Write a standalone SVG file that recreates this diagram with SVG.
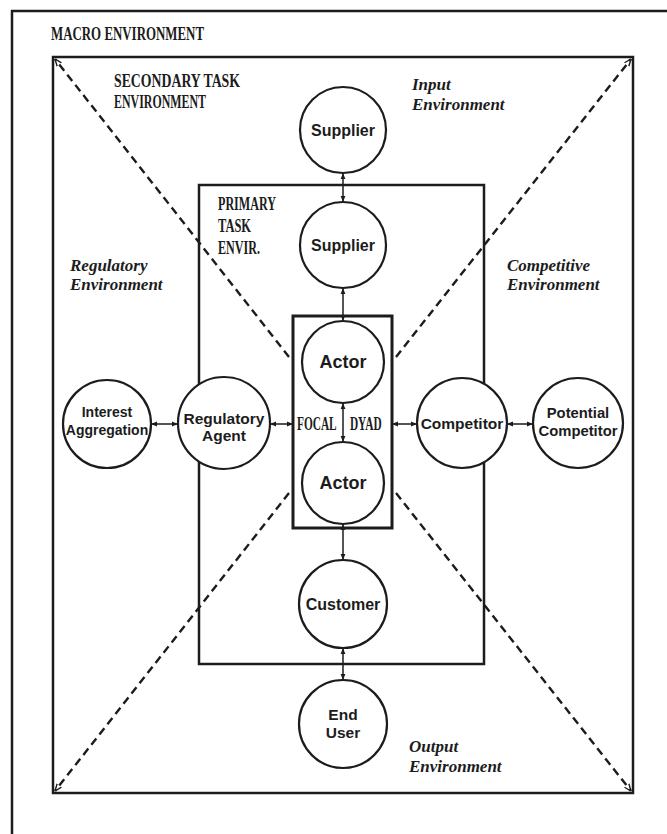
<svg xmlns="http://www.w3.org/2000/svg" width="667" height="834" viewBox="0 0 667 834">
  <style>
    .frame { fill: none; stroke: #1c1c1c; stroke-width: 2.5; }
    .focal { fill: none; stroke: #1c1c1c; stroke-width: 3; }
    .node circle { fill: #ffffff; stroke: #1c1c1c; stroke-width: 2.2; }
    .node text { font-family: "Liberation Sans", Arial, sans-serif; font-weight: bold; fill: #1c1c1c; text-anchor: middle; }
    .caps { font-family: "Liberation Serif", "Times New Roman", serif; font-weight: bold; font-size: 18px; fill: #1c1c1c; }
    .env { font-family: "Liberation Serif", "Times New Roman", serif; font-weight: bold; font-style: italic; font-size: 17px; fill: #1c1c1c; }
    .dash { fill: none; stroke: #1c1c1c; stroke-width: 2.4; stroke-dasharray: 8 5; }
    .link { fill: none; stroke: #1c1c1c; stroke-width: 1.5; }
  </style>
  <defs>
    <marker id="tip" viewBox="0 0 10 10" refX="10" refY="5" markerUnits="userSpaceOnUse" markerWidth="6" markerHeight="6" orient="auto-start-reverse">
      <path d="M0,1 L10,5 L0,9 z" fill="#1c1c1c"/>
    </marker>
    <marker id="corner" viewBox="0 0 10 10" refX="10" refY="5" markerUnits="userSpaceOnUse" markerWidth="7" markerHeight="7" orient="auto-start-reverse">
      <path d="M0,1 L10,5 L0,9" fill="none" stroke="#1c1c1c" stroke-width="2"/>
    </marker>
  </defs>

  <rect width="667" height="834" fill="#ffffff"/>

  <!-- nested environment frames -->
  <g id="macro-environment">
    <rect class="frame" x="12" y="11" width="680" height="850"/>
    <text class="caps" x="51" y="40" textLength="153" lengthAdjust="spacingAndGlyphs">MACRO ENVIRONMENT</text>
  </g>
  <g id="secondary-task-environment">
    <rect class="frame" x="53" y="57" width="580" height="736"/>
    <text class="caps" x="114" y="87" textLength="126" lengthAdjust="spacingAndGlyphs">SECONDARY TASK</text>
    <text class="caps" x="114" y="108" textLength="92" lengthAdjust="spacingAndGlyphs">ENVIRONMENT</text>
  </g>
  <g id="primary-task-environment">
    <rect class="frame" x="199" y="185" width="285" height="479"/>
    <text class="caps" x="218" y="210" textLength="58" lengthAdjust="spacingAndGlyphs" font-size="20">PRIMARY</text>
    <text class="caps" x="218" y="232" textLength="33" lengthAdjust="spacingAndGlyphs" font-size="20">TASK</text>
    <text class="caps" x="218" y="254" textLength="42" lengthAdjust="spacingAndGlyphs" font-size="20">ENVIR.</text>
  </g>

  <!-- sector labels -->
  <g id="input-environment">
    <text class="env" x="412" y="90">Input</text>
    <text class="env" x="412" y="110">Environment</text>
  </g>
  <g id="regulatory-environment">
    <text class="env" x="70" y="271">Regulatory</text>
    <text class="env" x="70" y="290">Environment</text>
  </g>
  <g id="competitive-environment">
    <text class="env" x="507" y="271">Competitive</text>
    <text class="env" x="507" y="290">Environment</text>
  </g>
  <g id="output-environment">
    <text class="env" x="409" y="752">Output</text>
    <text class="env" x="409" y="772">Environment</text>
  </g>

  <!-- dashed sector boundaries and all links -->
  <g id="connectors">
    <line class="dash" x1="289" y1="357" x2="55" y2="59" marker-end="url(#corner)"/>
    <line class="dash" x1="396" y1="357" x2="631" y2="59" marker-end="url(#corner)"/>
    <line class="dash" x1="289" y1="493" x2="55" y2="791" marker-end="url(#corner)"/>
    <line class="dash" x1="396" y1="493" x2="631" y2="791" marker-end="url(#corner)"/>

    <line class="link" x1="343" y1="173" x2="343" y2="202" marker-start="url(#tip)" marker-end="url(#tip)"/>
    <line class="link" x1="343" y1="288" x2="343" y2="321" marker-start="url(#tip)" marker-end="url(#tip)"/>
    <line class="link" x1="343" y1="403" x2="343" y2="442" marker-start="url(#tip)" marker-end="url(#tip)"/>
    <line class="link" x1="343" y1="524" x2="343" y2="560" marker-start="url(#tip)" marker-end="url(#tip)"/>
    <line class="link" x1="343" y1="648" x2="343" y2="680" marker-start="url(#tip)" marker-end="url(#tip)"/>

    <line class="link" x1="151" y1="424" x2="178" y2="424" marker-start="url(#tip)" marker-end="url(#tip)"/>
    <line class="link" x1="270" y1="424" x2="293" y2="424" marker-start="url(#tip)" marker-end="url(#tip)"/>
    <line class="link" x1="392" y1="424" x2="417" y2="424" marker-start="url(#tip)" marker-end="url(#tip)"/>
    <line class="link" x1="507" y1="424" x2="533" y2="424" marker-start="url(#tip)" marker-end="url(#tip)"/>
  </g>

  <!-- focal dyad box; the label is condensed horizontally -->
  <g id="focal-dyad">
    <rect class="focal" x="293" y="316" width="99" height="212"/>
    <text class="caps" font-size="20" transform="translate(297 430) scale(0.63 1)"><tspan x="0">FOCAL</tspan><tspan x="84">DYAD</tspan></text>
  </g>

  <!-- actors -->
  <g id="supplier-outer" class="node">
    <circle cx="343" cy="130" r="43"/>
    <text x="343" y="136" font-size="16">Supplier</text>
  </g>
  <g id="supplier-inner" class="node">
    <circle cx="343" cy="245" r="43"/>
    <text x="343" y="251" font-size="16">Supplier</text>
  </g>
  <g id="actor-top" class="node">
    <circle cx="343" cy="362" r="41"/>
    <text x="343" y="368" font-size="18">Actor</text>
  </g>
  <g id="actor-bottom" class="node">
    <circle cx="343" cy="483" r="41"/>
    <text x="343" y="489" font-size="18">Actor</text>
  </g>
  <g id="customer" class="node">
    <circle cx="343" cy="604" r="44"/>
    <text x="343" y="610" font-size="16">Customer</text>
  </g>
  <g id="end-user" class="node">
    <circle cx="343" cy="724" r="44"/>
    <text x="343" y="720" font-size="15.5">End</text>
    <text x="343" y="738" font-size="15.5">User</text>
  </g>
  <g id="interest-aggregation" class="node">
    <circle cx="107" cy="424" r="44"/>
    <text x="107" y="417" font-size="14">Interest</text>
    <text x="107" y="435" font-size="14">Aggregation</text>
  </g>
  <g id="regulatory-agent" class="node">
    <circle cx="224" cy="423" r="46"/>
    <text x="224" y="424" font-size="15.5">Regulatory</text>
    <text x="224" y="441" font-size="15.5">Agent</text>
  </g>
  <g id="competitor" class="node">
    <circle cx="462" cy="423" r="45"/>
    <text x="462" y="429" font-size="15.5">Competitor</text>
  </g>
  <g id="potential-competitor" class="node">
    <circle cx="578" cy="423" r="45"/>
    <text x="578" y="418" font-size="14.8">Potential</text>
    <text x="578" y="436" font-size="14.8">Competitor</text>
  </g>
</svg>
